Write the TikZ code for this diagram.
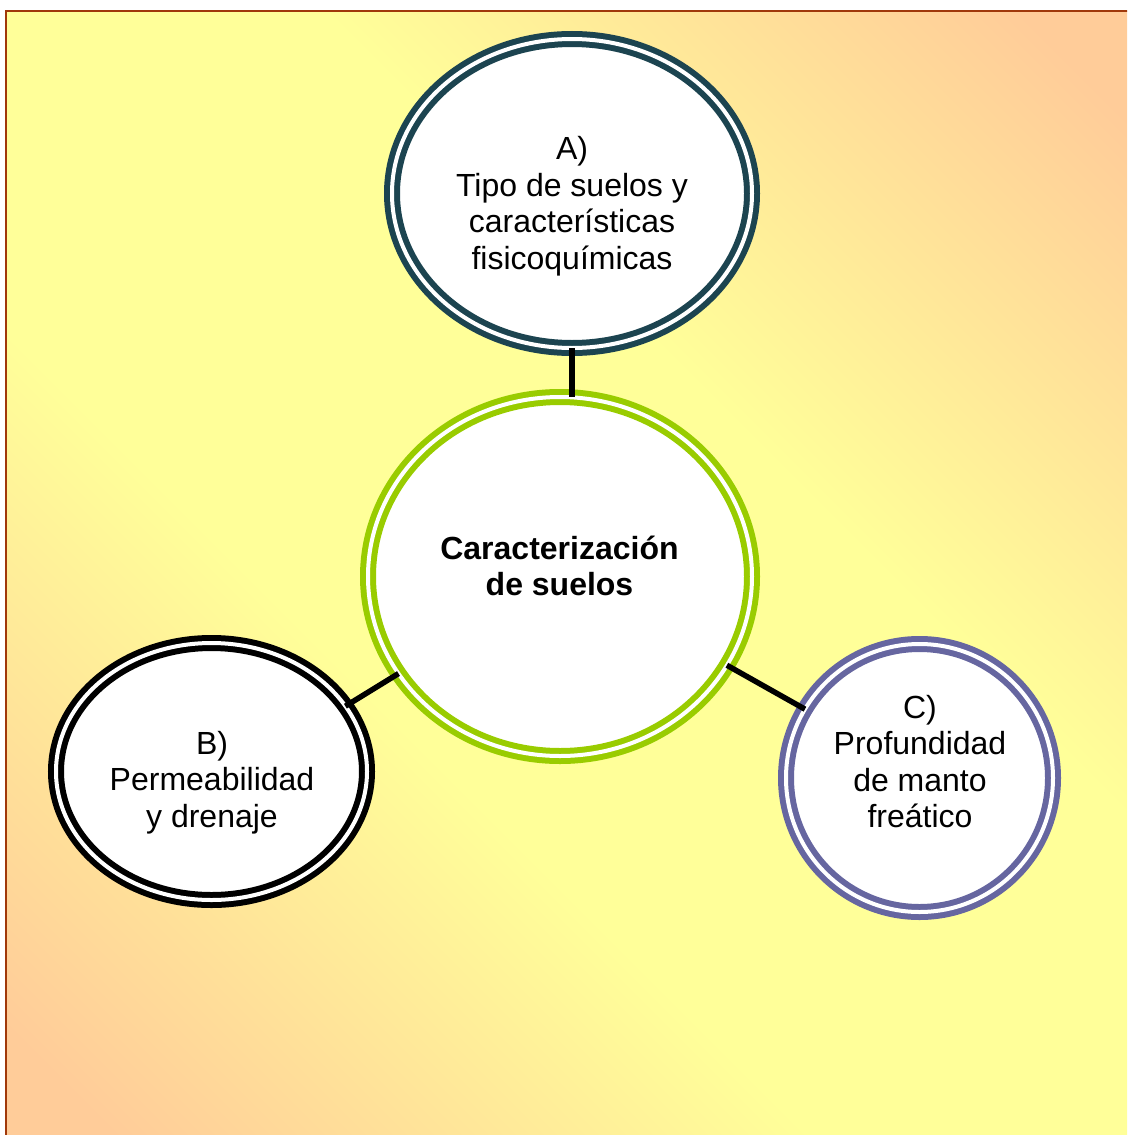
\documentclass[tikz,border=0pt]{standalone}
\usepackage{fontspec}
\setmainfont{Liberation Sans}
\usetikzlibrary{shapes.geometric}

\definecolor{bgyellow}{RGB}{255,255,153}
\definecolor{bgorange}{RGB}{255,204,153}
\definecolor{framebrown}{RGB}{160,56,10}
\definecolor{ringteal}{RGB}{28,68,80}
\definecolor{ringgreen}{RGB}{153,204,0}
\definecolor{ringslate}{RGB}{102,102,160}

% orange corners, yellow band along the main diagonal
\pgfdeclarehorizontalshading{panelshade}{100bp}{%
  color(0bp)=(bgorange); color(18bp)=(bgorange);
  color(40bp)=(bgyellow); color(60bp)=(bgyellow);
  color(82bp)=(bgorange); color(100bp)=(bgorange)}

\tikzset{
  ring/.style={ellipse, inner sep=0pt, outer sep=0pt, fill=white,
    line width=6pt, double=white, double distance=4pt},
  ringtext/.style={align=center, inner sep=0pt,
    font=\fontsize{32}{36.5}\selectfont},
  hubtext/.style={align=center, inner sep=0pt,
    font=\fontsize{32}{36.5}\selectfont\bfseries},
  link/.style={line width=5.5pt, black}
}

\begin{document}
\begin{tikzpicture}[x=1pt, y=-1pt]
  \useasboundingbox (0,0) rectangle (1127,1135);

  % panel background and frame
  \begin{scope}
    \clip (0,0) rectangle (1127,1135);
    \path[shading=panelshade, shading angle=45] (6,11) rectangle (1133,1141);
    \draw[framebrown, line width=2.5pt] (6,11) rectangle (1133,1141);
  \end{scope}

  % rings
  \node[ring, draw=ringteal,  minimum width=360pt, minimum height=309pt] (soiltype) at (572,193.5) {};
  \node[ring, draw=ringgreen, minimum width=384pt, minimum height=359pt] (hub)      at (560,576.5) {};
  \node[ring, draw=black,     minimum width=311pt, minimum height=257pt] (perm)     at (211.5,771.5) {};
  \node[ring, draw=ringslate, minimum width=267pt, minimum height=268pt] (water)    at (919.5,778) {};

  % connectors
  \draw[link] (soiltype.south) -- (soiltype.south |- hub.north);
  \draw[link] (perm.26) -- (hub.211.5);
  \draw[link] (hub.332) -- (water.149.6);

  % texts
  \node[ringtext] (soiltype-text) at (572,206) {A)\\Tipo de suelos y\\características\\fisicoquímicas};
  \node[hubtext]  (hub-text)      at (559.5,566) {Caracterización\\de suelos};
  \node[ringtext] (perm-text)     at (212,782.6) {B)\\Permeabilidad\\y drenaje};
  \node[ringtext] (water-text)    at (920,761.6) {C)\\Profundidad\\de manto\\freático};
\end{tikzpicture}
\end{document}
